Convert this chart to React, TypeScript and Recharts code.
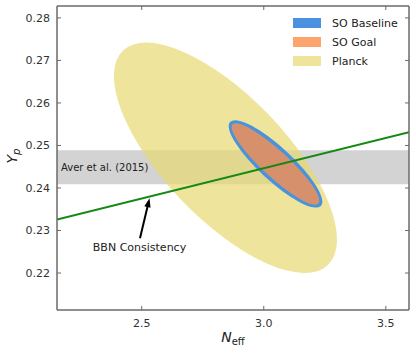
import React from 'react';
import {
  ComposedChart,
  XAxis,
  YAxis,
  Line,
  ReferenceArea,
  ReferenceLine,
  ReferenceDot,
  Label,
} from 'recharts';

// ---------- data ----------
const xTicks = [2.5, 3.0, 3.5];
const yTicks = [0.22, 0.23, 0.24, 0.25, 0.26, 0.27, 0.28];
const xDomain = [2.153, 3.595];
const yDomain = [0.2113, 0.2828];

const ellipseNames = ['Planck', 'SO Baseline', 'SO Goal'];
const ellipseNeffCenter = [2.843, 3.048, 3.048];
const ellipseYpCenter = [0.2471, 0.24566, 0.24566];
const ellipseNeffHalfWidth = [0.457, 0.1918, 0.1795];
const ellipseYpHalfHeight = [0.0271, 0.01028, 0.00958];
const ellipseCorrelation = [-0.71, -0.865, -0.904];

const bbnNeff = [2.153, 3.595];
const bbnYp = [0.2326, 0.2531];

const averLabel = 'Aver et al. (2015)';
const averYpLow = 0.2409;
const averYpHigh = 0.2489;

const arrowNeff = [2.493, 2.532];
const arrowYp = [0.2282, 0.2376];
const bbnLabel = 'BBN Consistency';
const bbnLabelNeff = 2.491;
const bbnLabelYp = 0.226;

// ---------- styles ----------
const FONT = '"DejaVu Sans", sans-serif';
const FRAME = '#6a6a6a';
const TEXT = '#222';
const ellipseFill = ['#e8d870', '#4893dd', '#d6916c'];
const ellipseOpacity = [0.7, 1, 1];
const legendFill = ['#efe49b', '#4a92e0', '#fca46e'];
const legendOrder = [1, 2, 0];

const bbnData = bbnNeff.map((n, i) => ({ neff: n, yp: bbnYp[i] }));

function ellipseShape(rhoData: number, fill: string, opacity: number) {
  return (props: any) => {
    const { x, y, width, height } = props;
    if ([x, y, width, height].some((v) => typeof v !== 'number' || isNaN(v))) return <g />;
    const wx = Math.abs(width) / 2;
    const wy = Math.abs(height) / 2;
    const cx = x + width / 2;
    const cy = y + height / 2;
    const rho = -rhoData; // y axis is flipped in pixel space
    const c11 = wx * wx;
    const c22 = wy * wy;
    const c12 = rho * wx * wy;
    const m = (c11 + c22) / 2;
    const d = Math.sqrt(((c11 - c22) / 2) ** 2 + c12 * c12);
    const rx = Math.sqrt(m + d);
    const ry = Math.sqrt(Math.max(m - d, 0));
    const ang = (0.5 * Math.atan2(2 * c12, c11 - c22) * 180) / Math.PI;
    return (
      <ellipse
        cx={cx}
        cy={cy}
        rx={rx}
        ry={ry}
        transform={`rotate(${ang} ${cx} ${cy})`}
        fill={fill}
        fillOpacity={opacity}
      />
    );
  };
}

const arrowShape = (p: any) => {
  const { x1, y1, x2, y2 } = p;
  if ([x1, y1, x2, y2].some((v) => typeof v !== 'number' || isNaN(v))) return <g />;
  const dx = x2 - x1;
  const dy = y2 - y1;
  const len = Math.sqrt(dx * dx + dy * dy);
  const ux = dx / len;
  const uy = dy / len;
  const hl = 9;
  const hw = 3.2;
  const bx = x2 - ux * hl;
  const by = y2 - uy * hl;
  const px = -uy;
  const py = ux;
  return (
    <g>
      <line x1={x1} y1={y1} x2={bx + ux} y2={by + uy} stroke="#000" strokeWidth={2} />
      <polygon
        points={`${x2},${y2} ${bx + px * hw},${by + py * hw} ${bx - px * hw},${by - py * hw}`}
        fill="#000"
      />
    </g>
  );
};

const BottomTick = (p: any) => (
  <g>
    <line x1={p.x} x2={p.x} y1={p.y} y2={p.y - 4} stroke={FRAME} strokeWidth={1} />
    <text x={p.x} y={p.y + 17} textAnchor="middle" fontSize={11} fontFamily={FONT} fill="#333">
      {Number(p.payload.value).toFixed(1)}
    </text>
  </g>
);
const TopTick = (p: any) => (
  <line x1={p.x} x2={p.x} y1={p.y} y2={p.y + 4} stroke={FRAME} strokeWidth={1} />
);
const LeftTick = (p: any) => (
  <g>
    <line x1={p.x} x2={p.x + 4} y1={p.y} y2={p.y} stroke={FRAME} strokeWidth={1} />
    <text x={p.x - 7} y={p.y + 4} textAnchor="end" fontSize={11} fontFamily={FONT} fill="#333">
      {Number(p.payload.value).toFixed(2)}
    </text>
  </g>
);
const RightTick = (p: any) => (
  <line x1={p.x} x2={p.x - 4} y1={p.y} y2={p.y} stroke={FRAME} strokeWidth={1} />
);

const renderYLabel = (p: any) => {
  const vb = p.viewBox || { x: 7, y: 6, width: 50, height: 304 };
  const x = vb.x + 10;
  const y = vb.y + vb.height / 2 - 2;
  return (
    <text
      x={x}
      y={y}
      transform={`rotate(-90 ${x} ${y})`}
      textAnchor="middle"
      fontFamily={FONT}
      fill={TEXT}
    >
      <tspan fontStyle="italic" fontSize={14}>Y</tspan>
      <tspan fontStyle="italic" fontSize={10} dy={3}>p</tspan>
    </text>
  );
};

const renderXLabel = (p: any) => {
  const vb = p.viewBox || { x: 57, y: 310, width: 352, height: 30 };
  const x = vb.x + vb.width / 2;
  const y = vb.y + 32;
  return (
    <text x={x} y={y} textAnchor="middle" fontFamily={FONT} fill={TEXT}>
      <tspan fontStyle="italic" fontSize={14}>N</tspan>
      <tspan fontSize={10} dy={3}>eff</tspan>
    </text>
  );
};

export default function App() {
  const axisLine = { stroke: FRAME, strokeWidth: 1.5 };
  return (
    <div style={{ position: 'absolute', left: 0, top: 0, width: 416, height: 355, background: '#fff' }}>
      <ComposedChart
        width={416}
        height={355}
        data={bbnData}
        margin={{ top: 5, right: 6, bottom: 15, left: 7 }}
      >
        <XAxis
          xAxisId={0}
          type="number"
          dataKey="neff"
          domain={xDomain}
          ticks={xTicks}
          allowDataOverflow
          height={30}
          tickSize={0}
          tickMargin={0}
          tickLine={false}
          axisLine={axisLine}
          tick={BottomTick}
          interval={0}
        >
          <Label content={renderXLabel} />
        </XAxis>
        <XAxis
          xAxisId="top"
          orientation="top"
          type="number"
          dataKey="neff"
          domain={xDomain}
          ticks={xTicks}
          allowDataOverflow
          height={1}
          tickSize={0}
          tickMargin={0}
          tickLine={false}
          axisLine={axisLine}
          tick={TopTick}
          interval={0}
        />
        <YAxis
          yAxisId={0}
          type="number"
          domain={yDomain}
          ticks={yTicks}
          allowDataOverflow
          width={50}
          tickSize={0}
          tickMargin={0}
          tickLine={false}
          axisLine={axisLine}
          tick={LeftTick}
          interval={0}
        >
          <Label content={renderYLabel} />
        </YAxis>
        <YAxis
          yAxisId="right"
          orientation="right"
          type="number"
          domain={yDomain}
          ticks={yTicks}
          allowDataOverflow
          width={1}
          tickSize={0}
          tickMargin={0}
          tickLine={false}
          axisLine={axisLine}
          tick={RightTick}
          interval={0}
        />

        <ReferenceArea
          xAxisId={0}
          yAxisId={0}
          y1={averYpLow}
          y2={averYpHigh}
          fill="#d3d3d3"
          fillOpacity={1}
          stroke="none"
          ifOverflow="visible"
          label={{
            value: averLabel,
            position: 'insideLeft',
            offset: 4,
            fontSize: 10,
            fontFamily: FONT,
            fill: TEXT,
          }}
        />

        {ellipseNames.map((name, i) => (
          <ReferenceArea
            key={name}
            xAxisId={0}
            yAxisId={0}
            x1={ellipseNeffCenter[i] - ellipseNeffHalfWidth[i]}
            x2={ellipseNeffCenter[i] + ellipseNeffHalfWidth[i]}
            y1={ellipseYpCenter[i] - ellipseYpHalfHeight[i]}
            y2={ellipseYpCenter[i] + ellipseYpHalfHeight[i]}
            ifOverflow="visible"
            shape={ellipseShape(ellipseCorrelation[i], ellipseFill[i], ellipseOpacity[i])}
          />
        ))}

        <Line
          xAxisId={0}
          yAxisId={0}
          type="linear"
          dataKey="yp"
          stroke="#138a13"
          strokeWidth={2}
          dot={false}
          activeDot={false}
          isAnimationActive={false}
        />

        <ReferenceLine
          xAxisId={0}
          yAxisId={0}
          segment={[
            { x: arrowNeff[0], y: arrowYp[0] },
            { x: arrowNeff[1], y: arrowYp[1] },
          ]}
          ifOverflow="visible"
          shape={arrowShape}
        />
        <ReferenceDot
          xAxisId={0}
          yAxisId={0}
          x={bbnLabelNeff}
          y={bbnLabelYp}
          r={0}
          fill="none"
          stroke="none"
          ifOverflow="visible"
          label={{
            value: bbnLabel,
            position: 'center',
            fontSize: 11,
            fontFamily: FONT,
            fill: TEXT,
          }}
        />
      </ComposedChart>

      <div
        style={{
          position: 'absolute',
          left: 293,
          top: 13.5,
          fontFamily: FONT,
          fontSize: 11,
          color: TEXT,
        }}
      >
        {legendOrder.map((idx) => (
          <div key={idx} style={{ display: 'flex', alignItems: 'center', height: 19 }}>
            <div style={{ width: 28, height: 10, background: legendFill[idx], marginRight: 11 }} />
            <span style={{ whiteSpace: 'nowrap' }}>{ellipseNames[idx]}</span>
          </div>
        ))}
      </div>
    </div>
  );
}
